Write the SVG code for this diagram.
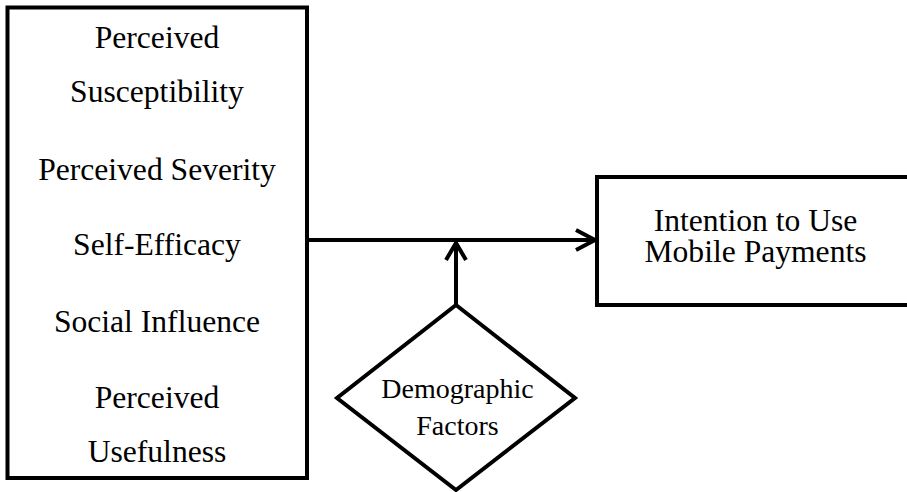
<svg xmlns="http://www.w3.org/2000/svg" width="907" height="492" viewBox="0 0 907 492">
<style>
.box{fill:#fff;stroke:#000;stroke-width:4}
.ln{fill:none;stroke:#000;stroke-width:4}
text{fill:#000;text-anchor:middle}
.t{font-size:31.6px}
.s{font-size:28px}
</style>
<rect width="907" height="492" fill="#fff"/>
<g id="factors" font-family="Liberation Serif, serif">
<rect class="box" x="7.5" y="7.5" width="299.5" height="470.5"/>
<text class="t" x="157" y="48">Perceived</text>
<text class="t" x="157" y="102">Susceptibility</text>
<text class="t" x="157" y="180">Perceived Severity</text>
<text class="t" x="157" y="255">Self-Efficacy</text>
<text class="t" x="157" y="332">Social Influence</text>
<text class="t" x="157" y="408">Perceived</text>
<text class="t" x="157" y="462">Usefulness</text>
</g>
<g id="intention" font-family="Liberation Serif, serif">
<rect class="box" x="597" y="177" width="317" height="128"/>
<text class="t" x="755.5" y="231">Intention to Use</text>
<text class="t" x="755.5" y="262">Mobile Payments</text>
</g>
<g id="demographic" font-family="Liberation Serif, serif">
<polygon class="box" points="456,305 575,398 456,490 337,398"/>
<text class="s" x="457.5" y="398">Demographic</text>
<text class="s" x="457.5" y="435">Factors</text>
</g>
<g id="connectors">
<line class="ln" x1="307" y1="240" x2="595" y2="240"/>
<polyline class="ln" points="576,230 595,240 576,250"/>
<line class="ln" x1="456" y1="305" x2="456" y2="243"/>
<polyline class="ln" points="446,260 456,243 466,260"/>
</g>
</svg>
